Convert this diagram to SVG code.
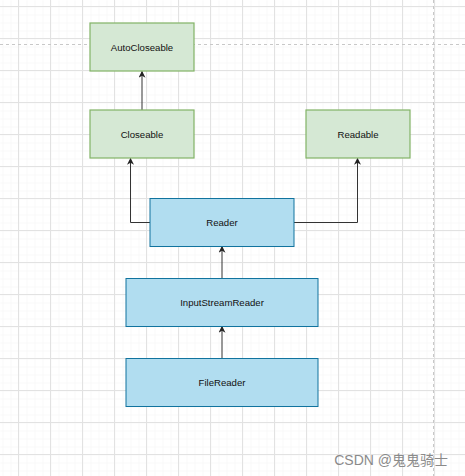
<svg xmlns="http://www.w3.org/2000/svg" width="465" height="476" viewBox="0 0 465 476">
<defs>
<pattern id="minor" x="2" y="6" width="8" height="8" patternUnits="userSpaceOnUse">
<path d="M0 0H8M0 0V8" fill="none" stroke="#f3f3f3" stroke-width="1"/>
</pattern>
<pattern id="major" x="18" y="6" width="32" height="32" patternUnits="userSpaceOnUse">
<path d="M0 0.5H32M0.5 0V32" fill="none" stroke="#e2e2e2" stroke-width="1"/>
</pattern>
<marker id="arr" viewBox="0 0 10 10" refX="9" refY="5" markerWidth="7" markerHeight="7" markerUnits="userSpaceOnUse" orient="auto">
<path d="M0 0L10 5L0 10L3 5Z" fill="#222"/>
</marker>
</defs>
<style>
.g rect{fill:#d5e8d4;stroke:#82b366;stroke-width:1.2}
.b rect{fill:#b1ddf0;stroke:#10739e;stroke-width:1}
text{font-family:"Liberation Sans",Arial,sans-serif;font-size:9.6px;fill:#111;text-anchor:middle}
.c path{fill:none;stroke:#333;stroke-width:1;marker-end:url(#arr)}
</style>
<rect width="465" height="476" fill="#ffffff"/>
<rect width="465" height="476" fill="url(#minor)" transform="translate(0.5 0.5)"/>
<rect width="465" height="476" fill="url(#major)"/>
<path d="M0 44.5H465M433.5 0V476" stroke="#c8c8c8" stroke-width="1" stroke-dasharray="3 3" fill="none"/>
<g class="c" id="connectors">
<path d="M142 110V71.5"/>
<path d="M150 222.5H130.5V158.5"/>
<path d="M294 222.5H357.5V158.5"/>
<path d="M222 278V246.5"/>
<path d="M222 358V326.5"/>
</g>
<g id="autocloseable" class="g"><rect x="90" y="23" width="104" height="48"/><text x="142" y="50.5">AutoCloseable</text></g>
<g id="closeable" class="g"><rect x="90" y="110" width="104" height="48"/><text x="142" y="137.5">Closeable</text></g>
<g id="readable" class="g"><rect x="306" y="110" width="104" height="48"/><text x="358" y="137.5">Readable</text></g>
<g id="reader" class="b"><rect x="150" y="198.5" width="144" height="48"/><text x="222" y="226">Reader</text></g>
<g id="inputstreamreader" class="b"><rect x="126" y="278.5" width="192" height="48"/><text x="222" y="306">InputStreamReader</text></g>
<g id="filereader" class="b"><rect x="126" y="358.5" width="192" height="48"/><text x="222" y="386">FileReader</text></g>
<text x="448" y="465" style="font-size:14px;fill:#8a8a8a;text-anchor:end;font-family:'Liberation Sans','Noto Sans CJK SC',sans-serif">CSDN @鬼鬼骑士</text>
</svg>
